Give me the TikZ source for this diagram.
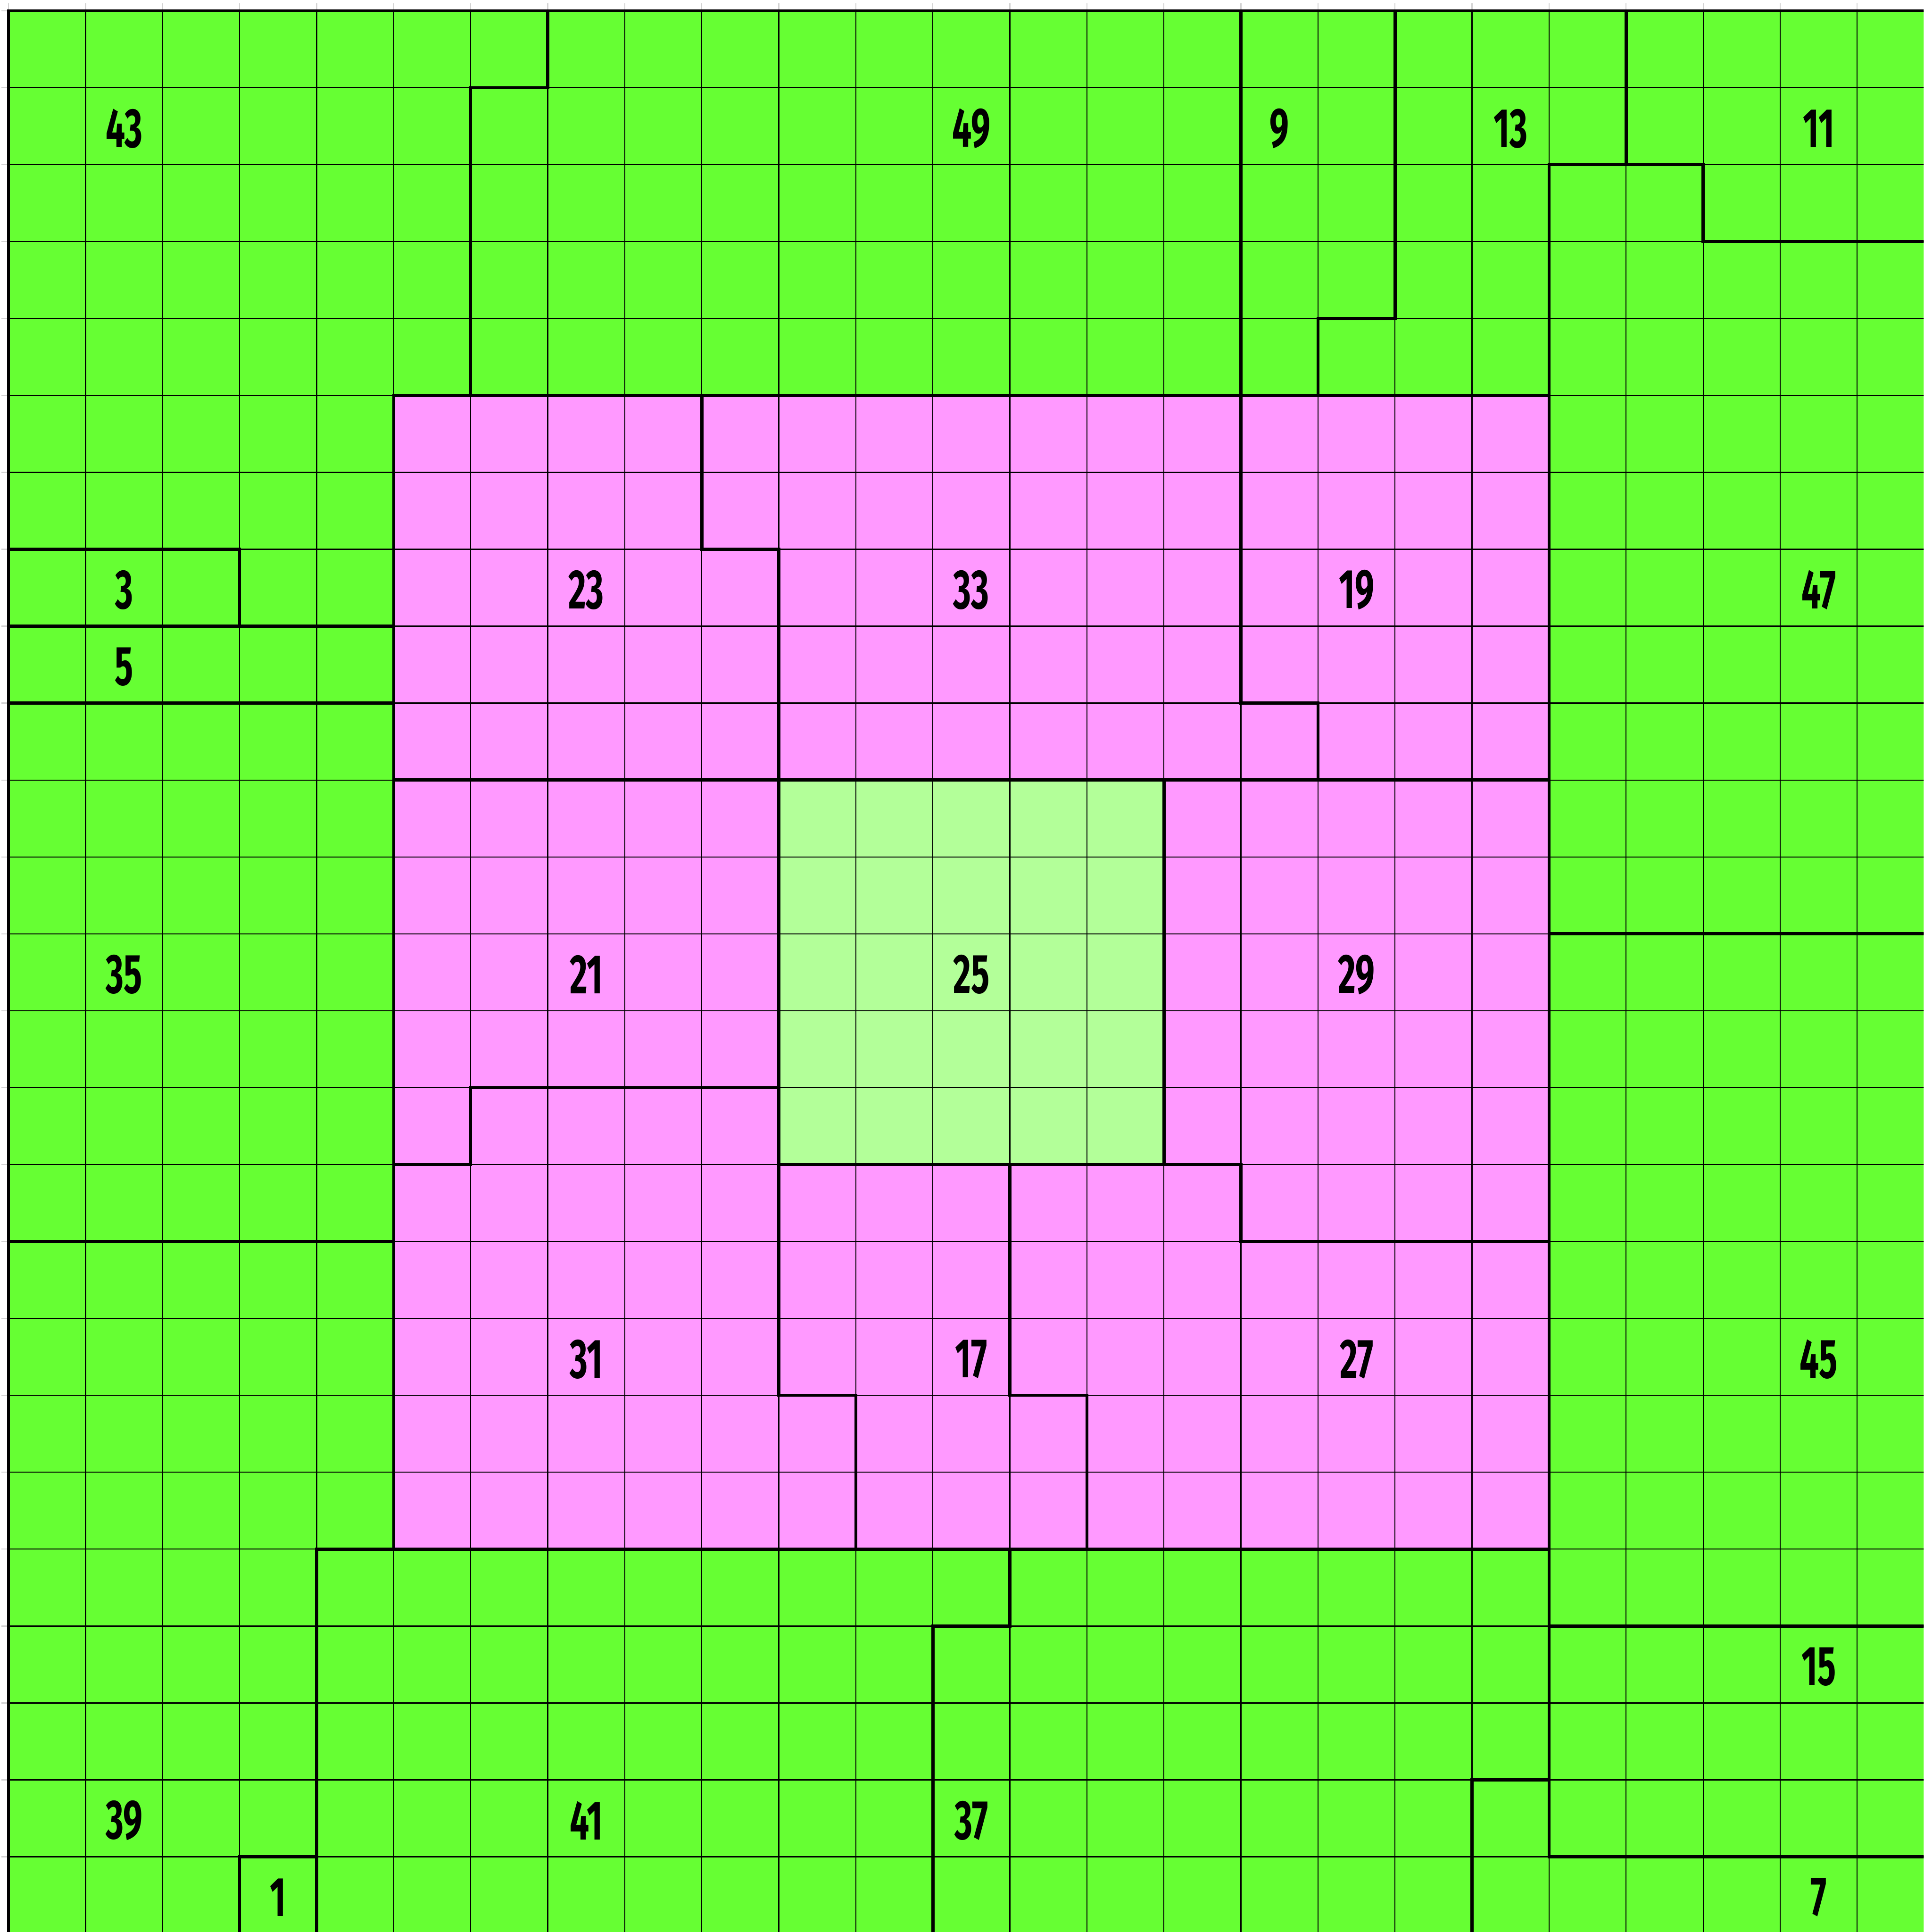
\documentclass[tikz,border=0pt]{standalone}
\usepackage{fontspec}
\newfontfamily\numfont[FakeStretch=0.62]{Fira Sans}
\definecolor{cellgreen}{HTML}{66FF33}
\definecolor{cellpink}{HTML}{FF99FF}
\definecolor{cellpale}{HTML}{B3FF99}
\definecolor{tickgray}{HTML}{D2D2D2}

\begin{document}
\begin{tikzpicture}[
            x=1cm,y=-0.9983cm,
            gridline/.style={black,line width=0.4pt},
            wall/.style={black,line width=1.15pt,line cap=rect,line join=miter},
            tickmark/.style={tickgray,line width=0.4pt},
            lab/.style={font=\numfont\bfseries\fontsize{20.5}{22}\selectfont,inner sep=0pt},
        ]
          % 25x25 cells, row index grows downwards; right and bottom edge cut off
          \clip (-0.111,-0.141) rectangle (24.863,24.978);
          \fill[cellgreen] (0,0) rectangle (25.5,25.5);
          \fill[cellpink] (5,5) rectangle (20,20);
          \fill[cellpale] (10,10) rectangle (15,15);

          \foreach \i in {1,...,25} {
            \draw[gridline] (\i,0) -- (\i,25.5);
            \draw[gridline] (0,\i) -- (25.5,\i);
          }
          \foreach \i in {0,...,24} {
            \draw[tickmark] (\i,-0.1) -- (\i,-0.02);
            \draw[tickmark] (-0.09,\i) -- (-0.02,\i);
          }

          % outer frame
          \draw[wall] (0,25.5) -- (0,0) -- (25.5,0);

          % outer ring
          \draw[wall] (7,0) -- (7,1) -- (6,1) -- (6,5);
          \draw[wall] (16,0) -- (16,9) -- (17,9) -- (17,10);
          \draw[wall] (18,0) -- (18,4) -- (17,4) -- (17,5);
          \draw[wall] (21,0) -- (21,2);
          \draw[wall] (20,2) -- (22,2) -- (22,3) -- (25.5,3);
          \draw[wall] (20,2) -- (20,24) -- (25.5,24);
          \draw[wall] (20,12) -- (25.5,12);
          \draw[wall] (20,21) -- (25.5,21);
          \draw[wall] (19,25.5) -- (19,23) -- (20,23);
          \draw[wall] (12,25.5) -- (12,21) -- (13,21) -- (13,20);
          \draw[wall] (4,25.5) -- (4,20) -- (20,20);
          \draw[wall] (3,25.5) -- (3,24) -- (4,24);
          \draw[wall] (0,7) -- (3,7) -- (3,8) -- (5,8);
          \draw[wall] (0,8) -- (3,8);
          \draw[wall] (0,9) -- (5,9);
          \draw[wall] (0,16) -- (5,16);

          % inner square
          \draw[wall] (5,20) -- (5,5) -- (20,5);
          \draw[wall] (9,5) -- (9,7) -- (10,7) -- (10,10);
          \draw[wall] (5,10) -- (20,10);
          \draw[wall] (10,10) -- (10,15) -- (15,15) -- (15,10);
          \draw[wall] (5,15) -- (6,15) -- (6,14) -- (10,14);
          \draw[wall] (10,15) -- (10,18) -- (11,18) -- (11,20);
          \draw[wall] (13,15) -- (13,18) -- (14,18) -- (14,20);
          \draw[wall] (15,15) -- (16,15) -- (16,16) -- (20,16);

          \foreach \c/\r/\n in {1/1/43,12/1/49,16/1/9,19/1/13,23/1/11,
                                1/7/3,7/7/23,12/7/33,17/7/19,23/7/47,1/8/5,
                                1/12/35,7/12/21,12/12/25,17/12/29,
                                7/17/31,12/17/17,17/17/27,23/17/45,23/21/15,
                                1/23/39,7/23/41,12/23/37,3/24/1,23/24/7} {
            \node[lab] (r\n) at (\c+0.5,\r+0.53) {\n};
          }
        \end{tikzpicture}
\end{document}
